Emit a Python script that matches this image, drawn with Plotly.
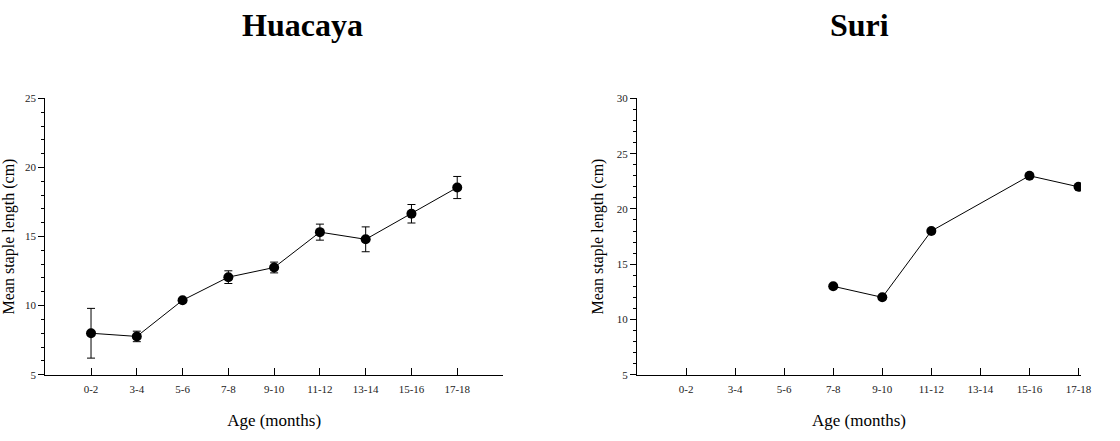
import plotly.graph_objects as go

ages = ["0-2", "3-4", "5-6", "7-8", "9-10", "11-12", "13-14", "15-16", "17-18"]
huacaya_mean = [8.0, 7.77, 10.39, 12.06, 12.76, 15.32, 14.8, 16.65, 18.55]
huacaya_err = [1.8, 0.38, 0.12, 0.46, 0.39, 0.58, 0.9, 0.67, 0.8]
suri_ages = ["7-8", "9-10", "11-12", "15-16", "17-18"]
suri_mean = [13, 12, 18, 23, 22]

pos = {a: i + 1 for i, a in enumerate(ages)}
FONT = "Liberation Serif, Times New Roman, serif"

fig = go.Figure()
fig.add_trace(go.Scatter(
    x=[pos[a] for a in ages], y=huacaya_mean,
    mode="lines+markers",
    line=dict(color="black", width=1),
    marker=dict(color="black", size=10),
    error_y=dict(type="data", array=huacaya_err, color="black", thickness=1, width=4),
    xaxis="x", yaxis="y", showlegend=False,
))
fig.add_trace(go.Scatter(
    x=[pos[a] for a in suri_ages], y=suri_mean,
    mode="lines+markers",
    line=dict(color="black", width=1),
    marker=dict(color="black", size=10),
    xaxis="x2", yaxis="y2", showlegend=False,
))

ydom = [62 / 441, 346 / 441]
common_x = dict(
    tickmode="array", tickvals=list(range(1, 10)), ticktext=ages,
    ticks="inside", ticklen=7, tickcolor="black", tickwidth=1,
    showline=True, linecolor="black", linewidth=1,
    showgrid=False, zeroline=False,
    tickfont=dict(family=FONT, size=11, color="#222"),
    ticklabelstandoff=4,
    title=dict(text="Age (months)", font=dict(family=FONT, size=17, color="black"), standoff=20),
)
common_y = dict(
    ticks="outside", ticklen=6, tickcolor="black", tickwidth=1,
    showline=True, linecolor="black", linewidth=1,
    showgrid=False, zeroline=False,
    tickfont=dict(family=FONT, size=11, color="#222"),
    dtick=5,
    minor=dict(ticks="outside", ticklen=3, dtick=1, tickcolor="black", showgrid=False),
    title=dict(text="Mean staple length (cm)", font=dict(family=FONT, size=16, color="black"), standoff=9),
)

fig.update_layout(
    width=1120, height=441,
    margin=dict(l=0, r=0, t=0, b=0),
    paper_bgcolor="white", plot_bgcolor="white",
    xaxis=dict(common_x, domain=[45.7 / 1120, 508 / 1120], range=[0, 10], anchor="y"),
    yaxis=dict(common_y, domain=ydom, range=[5, 25], tick0=5, anchor="x"),
    xaxis2=dict(common_x, domain=[643.3 / 1120, 1091.7 / 1120], range=[0, 9.05], anchor="y2"),
    yaxis2=dict(common_y, domain=ydom, range=[5, 30], tick0=5, anchor="x2"),
    annotations=[
        dict(text="<b>Huacaya</b>", x=306 / 1120, y=1 - 20 / 441, xref="paper", yref="paper",
             xanchor="center", yanchor="middle",
             showarrow=False, font=dict(family=FONT, size=32, color="black")),
        dict(text="<b>Suri</b>", x=868 / 1120, y=1 - 20 / 441, xref="paper", yref="paper",
             xanchor="center", yanchor="middle",
             showarrow=False, font=dict(family=FONT, size=32, color="black")),
    ],
)

fig.write_html("out.html")
